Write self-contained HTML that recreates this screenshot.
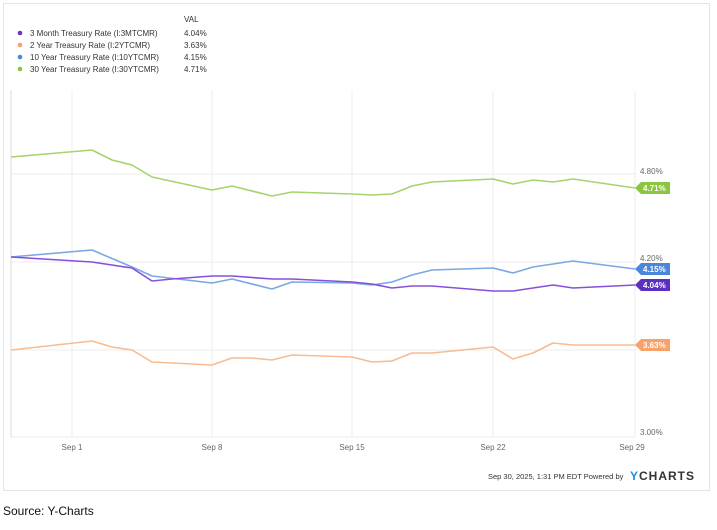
<!DOCTYPE html>
<html><head><style>
body{margin:0;background:#fff;width:717px;height:525px;overflow:hidden;font-family:"Liberation Sans",sans-serif;}
</style></head><body>
<svg width="717" height="525" xmlns="http://www.w3.org/2000/svg" font-family="Liberation Sans, sans-serif">
<rect x="3.5" y="3.5" width="706" height="487" fill="#fff" stroke="#e4e4e4"/>
<text x="184" y="22" font-size="8" fill="#333">VAL</text>
<g font-size="8" fill="#333">
<circle cx="20" cy="33" r="2.3" fill="#6a35c9"/><text x="30" y="36">3 Month Treasury Rate (I:3MTCMR)</text><text x="184" y="36">4.04%</text>
<circle cx="20" cy="45" r="2.3" fill="#f7a26a"/><text x="30" y="48">2 Year Treasury Rate (I:2YTCMR)</text><text x="184" y="48">3.63%</text>
<circle cx="20" cy="57" r="2.3" fill="#4a86d9"/><text x="30" y="60">10 Year Treasury Rate (I:10YTCMR)</text><text x="184" y="60">4.15%</text>
<circle cx="20" cy="69" r="2.3" fill="#8cc63f"/><text x="30" y="72">30 Year Treasury Rate (I:30YTCMR)</text><text x="184" y="72">4.71%</text>
</g>
<g stroke="#ececec" stroke-width="1">
<line x1="11" y1="90" x2="11" y2="437"/>
<line x1="72" y1="90" x2="72" y2="437"/><line x1="212" y1="90" x2="212" y2="437"/>
<line x1="352" y1="90" x2="352" y2="437"/><line x1="493" y1="90" x2="493" y2="437"/>
<line x1="635" y1="90" x2="635" y2="437"/>
<line x1="11" y1="174" x2="635" y2="174"/><line x1="11" y1="262" x2="635" y2="262"/>
<line x1="11" y1="350" x2="635" y2="350"/><line x1="11" y1="437" x2="635" y2="437"/>
</g>
<line x1="11" y1="90" x2="11" y2="437" stroke="#ddd"/>
<g font-size="8" fill="#666">
<text x="640" y="174">4.80%</text><text x="640" y="261">4.20%</text><text x="640" y="435">3.00%</text>
<text x="72" y="450" text-anchor="middle">Sep 1</text><text x="212" y="450" text-anchor="middle">Sep 8</text>
<text x="352" y="450" text-anchor="middle">Sep 15</text><text x="493" y="450" text-anchor="middle">Sep 22</text>
<text x="632" y="450" text-anchor="middle">Sep 29</text>
</g>
<g fill="none" stroke-width="1.6" stroke-linejoin="round">
<polyline stroke="#a6d46c" points="11,157 92,150 112,160 132,165 152,177 212,190 232,186 272,196 292,192 352,194 372,195 392,194 412,186 432,182 493,179 513,184 533,180 553,182 573,179 635,188"/>
<polyline stroke="#f9bb90" points="11,350 92,341 112,347 132,350 152,362 212,365 232,358 252,358 272,360 292,355 352,357 372,362 392,361 412,353 432,353 493,347 513,359 533,353 553,343 573,345 635,345"/>
<polyline stroke="#7ba7e3" points="11,257 92,250 132,267 152,276 212,283 232,279 272,289 292,282 352,283 372,285 392,282 412,275 432,270 493,268 513,273 533,267 573,261 635,269"/>
<polyline stroke="#8650db" points="11,257 92,262 132,268 152,281 172,279 212,276 232,276 272,279 292,279 352,282 372,284 392,288 412,286 432,286 493,291 513,291 553,285 573,288 635,285"/>
</g>
<g font-size="8" font-weight="bold" fill="#fff">
<path d="M635,188 l6,-6 h29 v12 h-29 z" fill="#8cc63f"/><text x="643" y="191">4.71%</text>
<path d="M635,269 l6,-6 h29 v12 h-29 z" fill="#4a86d9"/><text x="643" y="272">4.15%</text>
<path d="M635,285 l6,-6 h29 v12 h-29 z" fill="#5a2fc2"/><text x="643" y="288">4.04%</text>
<path d="M635,345 l6,-6 h29 v12 h-29 z" fill="#f7a26a"/><text x="643" y="348">3.63%</text>
</g>
<text x="488" y="479" font-size="7.5" fill="#333">Sep 30, 2025, 1:31 PM EDT Powered by</text>
<text x="630" y="480" font-size="12" font-weight="bold" fill="#333" letter-spacing="1"><tspan fill="#1c8fe0">Y</tspan>CHARTS</text>
<text x="3" y="515" font-size="12" fill="#111">Source: Y-Charts</text>
</svg>
</body></html>
